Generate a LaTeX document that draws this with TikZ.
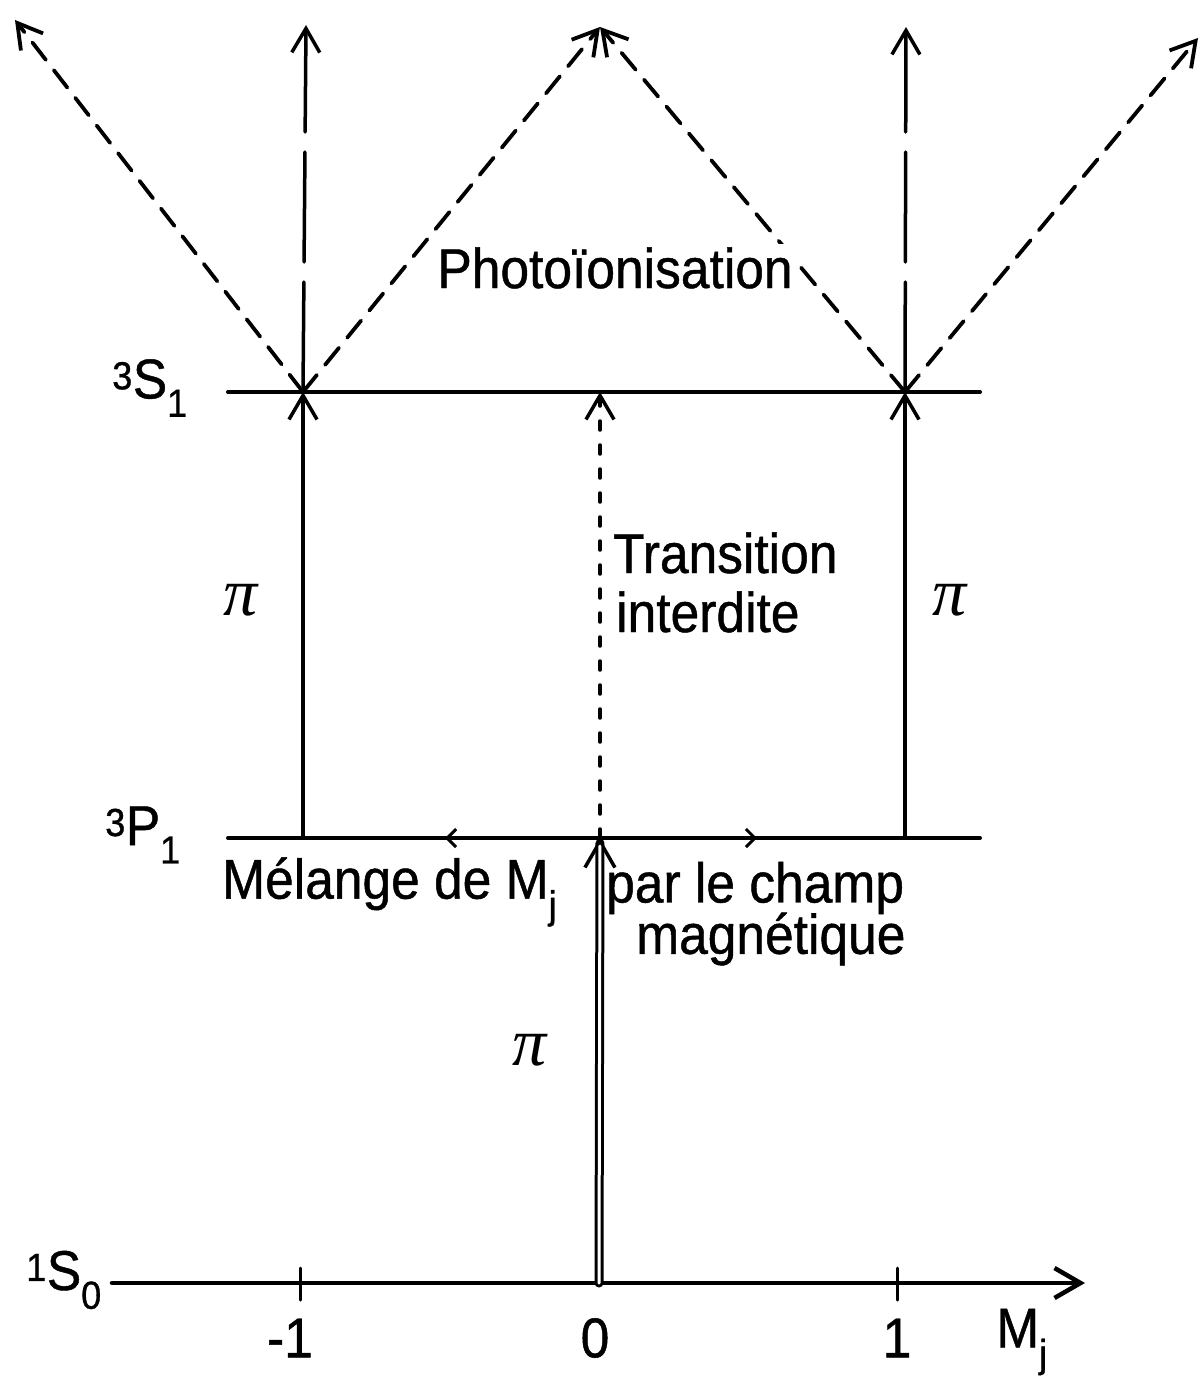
\documentclass[tikz,border=0pt]{standalone}
\usepackage{fontspec}
\setmainfont{Liberation Sans}[FakeStretch=0.92,FakeBold=0.8]
\newfontfamily\pifont{Liberation Serif}
\usetikzlibrary{arrows.meta}
\begin{document}
\begin{tikzpicture}[x=1pt,y=-1pt,line cap=round,
  lvl/.style={line width=4pt},
  barb/.style={-{Straight Barb[length=24pt,width=28pt]}},
  diag/.style={line width=3.8pt,dash pattern=on 22pt off 13pt,barb},
  vup/.style={line width=3.5pt,dash pattern=on 110pt off 20pt,barb},
  solidup/.style={line width=3.5pt,barb},
  forbid/.style={line width=3.5pt,dash pattern=on 9pt off 15pt,barb},
  mix/.style={line width=3pt,-{Straight Barb[length=9pt,width=18pt]}},
  lab/.style={font=\fontsize{56}{62}\selectfont,inner sep=0pt},
  pilab/.style={font=\fontsize{68}{72}\selectfont\pifont\itshape,inner sep=0pt}]
\useasboundingbox (0,0) rectangle (1204,1392);
% level coordinates
\coordinate (sL) at (228,392); \coordinate (sR) at (980,392);
\coordinate (sA) at (303,392); \coordinate (sB) at (600,392); \coordinate (sC) at (905,392);
\coordinate (pL) at (228,838); \coordinate (pR) at (980,838);
\coordinate (pA) at (303,838); \coordinate (pB) at (600,838); \coordinate (pC) at (905,838);
\coordinate (mixL) at (445,838); \coordinate (mixR) at (757,838);
\coordinate (ax0) at (112,1283); \coordinate (ax1) at (1085,1283);
\coordinate (aB) at (599,1283);
\coordinate (tk1a) at (300,1268); \coordinate (tk1b) at (300,1300);
\coordinate (tk2a) at (897,1268); \coordinate (tk2b) at (897,1300);
\coordinate (tL) at (15,20); \coordinate (tA) at (306,25); \coordinate (tM) at (600,27);
\coordinate (tC) at (906,27); \coordinate (tR) at (1198,38);
% levels
\draw[lvl] (sL) -- (sR);
\draw[lvl] (pL) -- (pR);
\draw[mix] (pB) -- (mixL);
\draw[mix] (pB) -- (mixR);
\draw[line width=4.5pt,-{Straight Barb[length=26pt,width=30pt]}] (ax0) -- (ax1);
\draw[line width=3pt] (tk1a) -- (tk1b);
\draw[line width=3pt] (tk2a) -- (tk2b);
% excitation pi (double line)
\draw[line width=9pt,-{Straight Barb[length=26pt,width=30pt,line width=3.5pt]}] (aB) -- (pB);
\draw[white,line width=3pt,shorten >=8pt] (aB) -- (pB);
% pi transitions 3P1 -> 3S1
\draw[solidup] (pA) -- (sA);
\draw[solidup] (pC) -- (sC);
\draw[forbid] (pB) -- (sB);
% photoionisation
\draw[diag] (sA) -- (tL);
\draw[vup] (sA) -- (tA);
\draw[diag] (sA) -- (tM);
\draw[diag] (sC) -- (tM);
\draw[vup] (sC) -- (tC);
\draw[diag] (sC) -- (tR);
% labels
\node[lab,fill=white,inner sep=3pt] (photo) at (615,268) {Photoïonisation};
\node[lab,anchor=west] (trans) at (613,553) {Transition};
\node[lab,anchor=west] (inter) at (616,612) {interdite};
\node[pilab] (pi1) at (241,600) {π};
\node[pilab] (pi2) at (950,600) {π};
\node[pilab] (pi3) at (530,1050) {π};
\node[lab,anchor=west] (melange) at (222,892) {Mélange de M\textsubscript{j}};
\node[lab,anchor=west] (parle) at (606,888) {par le champ};
\node[lab,anchor=west] (magn) at (636,939) {magnétique};
\node[lab] (S1) at (150,388) {\textsuperscript{3}S\textsubscript{1}};
\node[lab] (P1) at (143,835) {\textsuperscript{3}P\textsubscript{1}};
\node[lab] (S0) at (64,1280) {\textsuperscript{1}S\textsubscript{0}};
\node[lab] (m1) at (290,1338) {-1};
\node[lab] (z0) at (595,1338) {0};
\node[lab] (p1) at (897,1338) {1};
\node[lab] (Mj) at (1022,1342) {M\textsubscript{j}};
\end{tikzpicture}
\end{document}
